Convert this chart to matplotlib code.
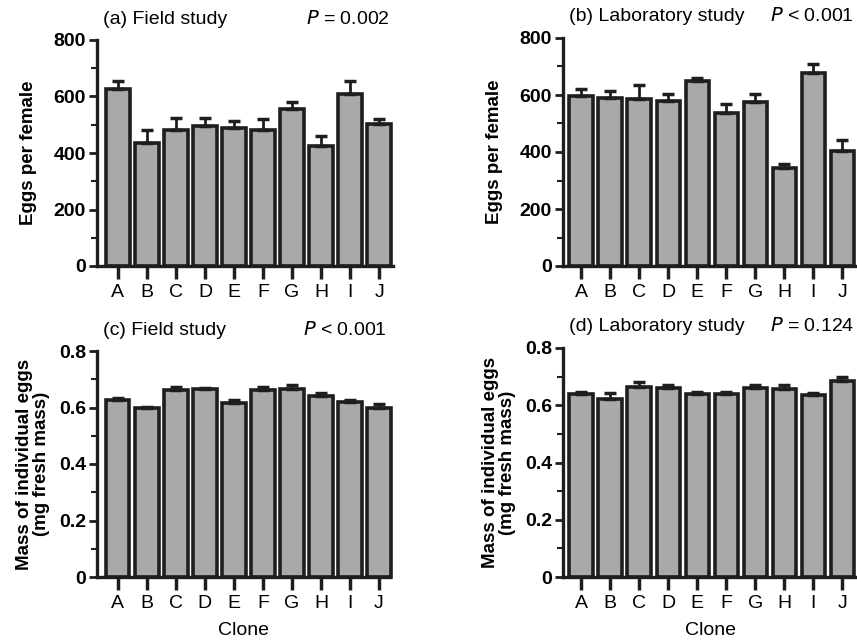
import matplotlib.pyplot as plt
import numpy as np
from matplotlib.ticker import MultipleLocator

clones = ['A', 'B', 'C', 'D', 'E', 'F', 'G', 'H', 'I', 'J']

field_eggs = [625, 435, 480, 495, 487, 482, 555, 425, 608, 503]
field_eggs_err = [30, 45, 45, 28, 27, 40, 27, 35, 47, 18]

lab_eggs = [598, 590, 585, 578, 648, 537, 575, 343, 678, 405]
lab_eggs_err = [22, 25, 50, 27, 13, 30, 30, 15, 30, 37]

field_mass = [0.625, 0.597, 0.663, 0.665, 0.615, 0.663, 0.665, 0.642, 0.618, 0.600]
field_mass_err = [0.008, 0.005, 0.008, 0.004, 0.012, 0.009, 0.015, 0.010, 0.010, 0.012]

lab_mass = [0.640, 0.622, 0.663, 0.660, 0.640, 0.640, 0.662, 0.657, 0.635, 0.683]
lab_mass_err = [0.006, 0.020, 0.018, 0.010, 0.008, 0.006, 0.010, 0.014, 0.008, 0.016]

plt.rcParams['font.family'] = ['Liberation Sans', 'DejaVu Sans']

W, H = 857, 641
fig = plt.figure(figsize=(W / 100, H / 100), dpi=100)


def px_axes(left, right, top, bottom):
    return fig.add_axes([left / W, 1 - bottom / H, (right - left) / W, (bottom - top) / H])


def draw_panel(ax, values, errs, ymax, major, minor, title, ptext, ylabel, xlim, fmt,
               ypad, xlabel=None):
    x = np.arange(len(clones))
    ax.bar(x, values, width=0.8, color='#a9a9a9', edgecolor='#1e1e1e', linewidth=2.6,
           zorder=2, clip_on=False)
    ax.errorbar(x, values, yerr=[np.zeros(len(errs)), errs], fmt='none', ecolor='#1e1e1e',
                elinewidth=2, capsize=4, capthick=2.5, zorder=3)
    ax.set_xlim(*xlim)
    ax.set_ylim(0, ymax)
    ax.yaxis.set_major_locator(MultipleLocator(major))
    ax.yaxis.set_minor_locator(MultipleLocator(minor))
    ax.yaxis.set_major_formatter(fmt)
    ax.set_xticks(x)
    ax.set_xticklabels(clones, fontsize=14)
    for lab in ax.get_yticklabels():
        lab.set_fontweight('bold')
        lab.set_fontsize(14)
    for s in ['top', 'right']:
        ax.spines[s].set_visible(False)
    for s in ['left', 'bottom']:
        ax.spines[s].set_linewidth(2.4)
        ax.spines[s].set_color('#1e1e1e')
    ax.tick_params(axis='y', which='major', length=6, width=2, color='#1e1e1e', pad=2)
    ax.tick_params(axis='y', which='minor', length=4, width=1.5, color='#1e1e1e')
    ax.tick_params(axis='x', length=9, width=2.5, color='#1e1e1e', pad=4)
    ax.set_ylabel(ylabel, fontsize=13.5, fontweight='bold', labelpad=ypad, linespacing=1.0)
    if xlabel:
        ax.set_xlabel(xlabel, fontsize=14, labelpad=7)
    ax.text(0.02, 1.055, title, transform=ax.transAxes, fontsize=14, ha='left', va='bottom')
    ax.text(0.99, 1.055, ptext, transform=ax.transAxes, fontsize=14, ha='right', va='bottom')


egg_fmt = lambda v, p: f'{v:.0f}'
mass_fmt = lambda v, p: '0' if v == 0 else f'{v:.1f}'

ax_a = px_axes(97, 393, 40, 266)
draw_panel(ax_a, field_eggs, field_eggs_err, 800, 200, 100, '(a) Field study',
           '$P$ = 0.002', 'Eggs per female', (-0.72, 9.48), egg_fmt, 12)

ax_b = px_axes(563, 857, 38, 266)
draw_panel(ax_b, lab_eggs, lab_eggs_err, 800, 200, 100, '(b) Laboratory study',
           '$P$ < 0.001', 'Eggs per female', (-0.62, 9.5), egg_fmt, 12)

ax_c = px_axes(97, 390, 351, 577)
draw_panel(ax_c, field_mass, field_mass_err, 0.8, 0.2, 0.1, '(c) Field study',
           '$P$ < 0.001', 'Mass of individual eggs\n(mg fresh mass)', (-0.72, 9.38), mass_fmt,
           6, xlabel='Clone')

ax_d = px_axes(563, 857, 348, 577)
draw_panel(ax_d, lab_mass, lab_mass_err, 0.8, 0.2, 0.1, '(d) Laboratory study',
           '$P$ = 0.124', 'Mass of individual eggs\n(mg fresh mass)', (-0.62, 9.5), mass_fmt,
           6, xlabel='Clone')

fig.savefig('out.png', dpi=100)
